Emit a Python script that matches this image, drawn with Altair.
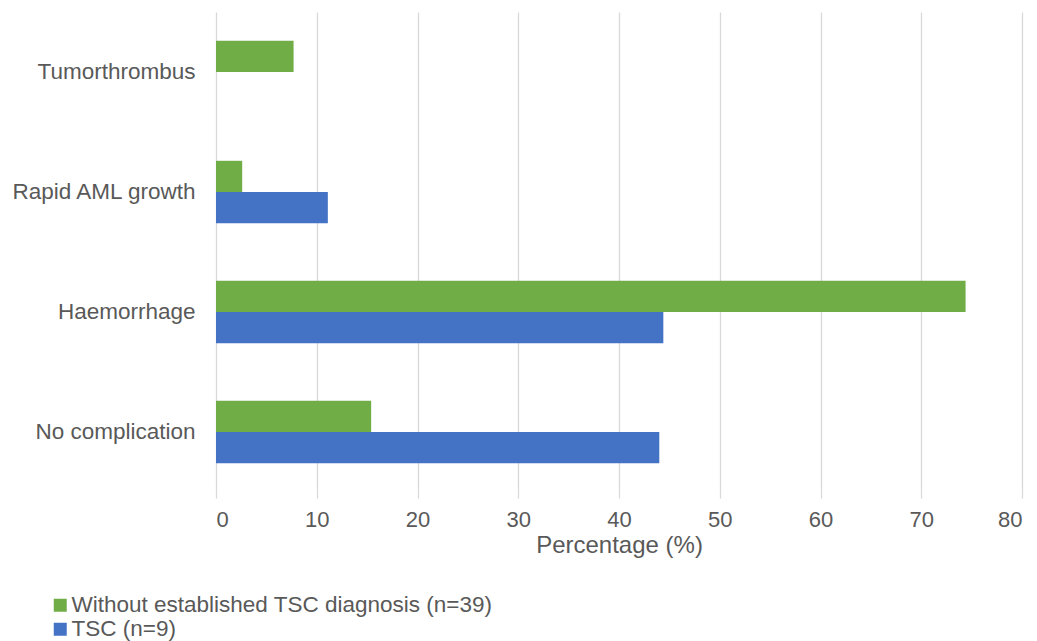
import altair as alt
import pandas as pd

categories = ["Tumorthrombus", "Rapid AML growth", "Haemorrhage", "No complication"]
series = ["Without established TSC diagnosis (n=39)", "TSC (n=9)"]
without_tsc = [7.7, 2.6, 74.4, 15.4]
tsc = [0.0, 11.1, 44.4, 44.0]
colors = ["#70AD47", "#4472C4"]

rows = []
for c, g, b in zip(categories, without_tsc, tsc):
    rows.append({"category": c, "series": series[0], "value": g})
    rows.append({"category": c, "series": series[1], "value": b})
df = pd.DataFrame(rows)

FONT = "Liberation Sans"
TXT = "#595959"

chart = alt.Chart(df).mark_bar().encode(
    x=alt.X(
        "value:Q",
        scale=alt.Scale(domain=[0, 80], nice=False),
        axis=alt.Axis(
            values=list(range(0, 81, 10)),
            title="Percentage (%)",
            grid=True,
            gridColor="#d9d9d9",
            gridWidth=1.3,
            domain=False,
            tickColor="#d9d9d9",
            tickWidth=1.3,
            tickSize=6,
            labelFontSize=22,
            labelColor=TXT,
            labelFont=FONT,
            labelPadding=11,
            titleFontSize=24,
            titleFont=FONT,
            titleColor=TXT,
            titleFontWeight="normal",
            titlePadding=3,
        ),
    ),
    y=alt.Y(
        "category:N",
        sort=categories,
        scale=alt.Scale(paddingInner=0.48, paddingOuter=0.24),
        axis=alt.Axis(
            title=None,
            ticks=False,
            domain=False,
            labelPadding=21,
            labelFontSize=22.5,
            labelColor=TXT,
            labelFont=FONT,
            labelLimit=0,
        ),
    ),
    yOffset=alt.YOffset("series:N", sort=series, scale=alt.Scale(paddingInner=0, paddingOuter=0)),
    color=alt.Color(
        "series:N",
        sort=series,
        scale=alt.Scale(domain=series, range=colors),
        legend=alt.Legend(
            orient="none",
            legendX=-167,
            legendY=582,
            title=None,
            symbolType="square",
            symbolSize=169,
            symbolStrokeWidth=0,
            labelFontSize=22.5,
            labelFont=FONT,
            labelColor=TXT,
            labelLimit=0,
            direction="vertical",
            rowPadding=1,
            labelOffset=0,
            padding=0,
        ),
    ),
).properties(
    width=806, height=480,
    padding={"left": 1, "top": 4, "right": 5, "bottom": 5},
).configure_view(stroke=None)

chart.save("out.html", embed_options={"renderer": "svg", "actions": False})
